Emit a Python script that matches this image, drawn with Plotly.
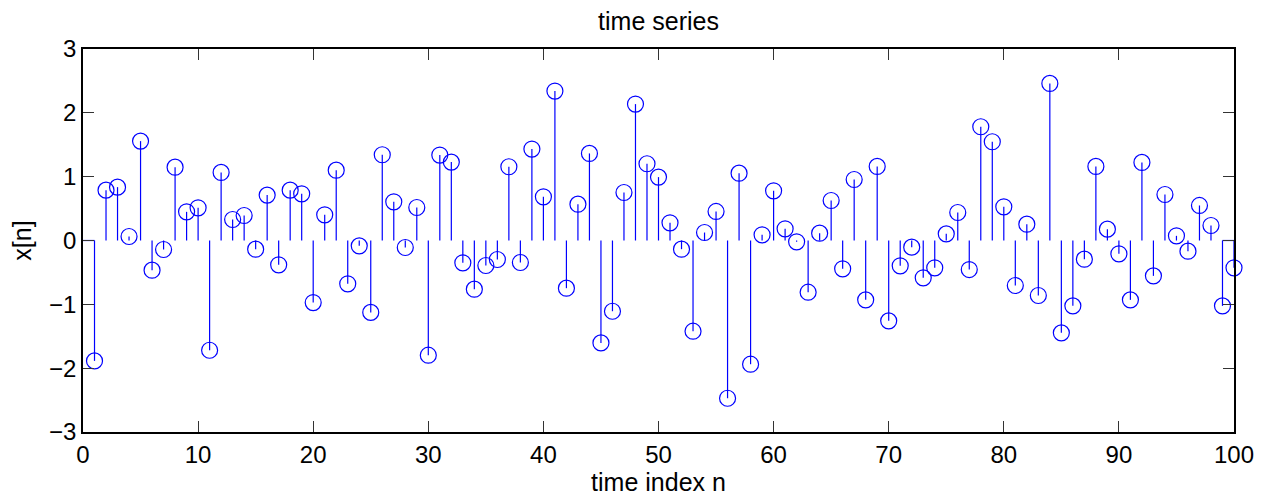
import plotly.graph_objects as go

n = list(range(1, 101))
x_vals = [
    -1.886, 0.789, 0.836, 0.063, 1.557, -0.465, -0.141, 1.149, 0.449, 0.512,
    -1.719, 1.066, 0.329, 0.392, -0.136, 0.711, -0.381, 0.789, 0.731, -0.972,
    0.402, 1.102, -0.679, -0.084, -1.126, 1.343, 0.606, -0.110, 0.517, -1.797,
    1.338, 1.228, -0.350, -0.763, -0.392, -0.298, 1.155, -0.345, 1.432, 0.684,
    2.341, -0.747, 0.569, 1.364, -1.604, -1.108, 0.752, 2.137, 1.202, 0.993,
    0.277, -0.136, -1.421, 0.125, 0.455, -2.471, 1.055, -1.938, 0.089, 0.778,
    0.183, -0.021, -0.810, 0.115, 0.627, -0.444, 0.956, -0.930, 1.160, -1.259,
    -0.397, -0.104, -0.585, -0.428, 0.104, 0.439, -0.455, 1.782, 1.547, 0.528,
    -0.705, 0.256, -0.862, 2.461, -1.447, -1.024, -0.293, 1.160, 0.178, -0.209,
    -0.930, 1.223, -0.554, 0.721, 0.073, -0.167, 0.549, 0.235, -1.024, -0.428,
]
x_ticks = [0, 10, 20, 30, 40, 50, 60, 70, 80, 90, 100]
y_ticks = [-3, -2, -1, 0, 1, 2, 3]

BLUE = "rgb(0,0,255)"

# stems
sx, sy = [], []
for xi, yi in zip(n, x_vals):
    sx += [xi, xi, None]
    sy += [0, yi, None]
# baseline ends
sx += [0, n[0], None, n[-2], n[-1]]
sy += [0, 0, None, 0, 0]

fig = go.Figure()
fig.add_trace(go.Scatter(x=sx, y=sy, mode="lines",
                         line=dict(color=BLUE, width=1.2),
                         hoverinfo="skip", showlegend=False))
fig.add_trace(go.Scatter(x=n, y=x_vals, mode="markers",
                         marker=dict(symbol="circle-open", size=16,
                                     color=BLUE, line=dict(width=1.2, color=BLUE)),
                         showlegend=False, cliponaxis=False))

font = "Liberation Sans, Arial, Helvetica, sans-serif"
axis_common = dict(showline=True, linecolor="black", linewidth=1.5,
                   mirror="ticks", ticks="inside", ticklen=11, tickwidth=1,
                   tickcolor="#333", showgrid=False, zeroline=False,
                   automargin=False,
                   tickfont=dict(family=font, size=24, color="black"))

H = 488
fig.update_layout(
    width=1264, height=H,
    margin=dict(l=75, r=38, t=41, b=64),
    paper_bgcolor="white", plot_bgcolor="white",
    title=dict(text="time series", x=0.5, xref="paper", xanchor="center",
               yref="container", y=1 - 13 / H, yanchor="middle",
               font=dict(family=font, size=25, color="black")),
    xaxis=dict(range=[0, 100], tickvals=x_ticks, ticktext=[str(t) for t in x_ticks],
               title=dict(text="time index n", standoff=0,
                          font=dict(family=font, size=25, color="black")),
               **axis_common),
    yaxis=dict(range=[-3, 3], tickvals=y_ticks,
               ticktext=[("\u2212" + str(-t)) if t < 0 else str(t) for t in y_ticks],
               title=dict(text="x[n]", standoff=10,
                          font=dict(family=font, size=25, color="black")),
               **axis_common),
)

fig.write_html("out.html")
